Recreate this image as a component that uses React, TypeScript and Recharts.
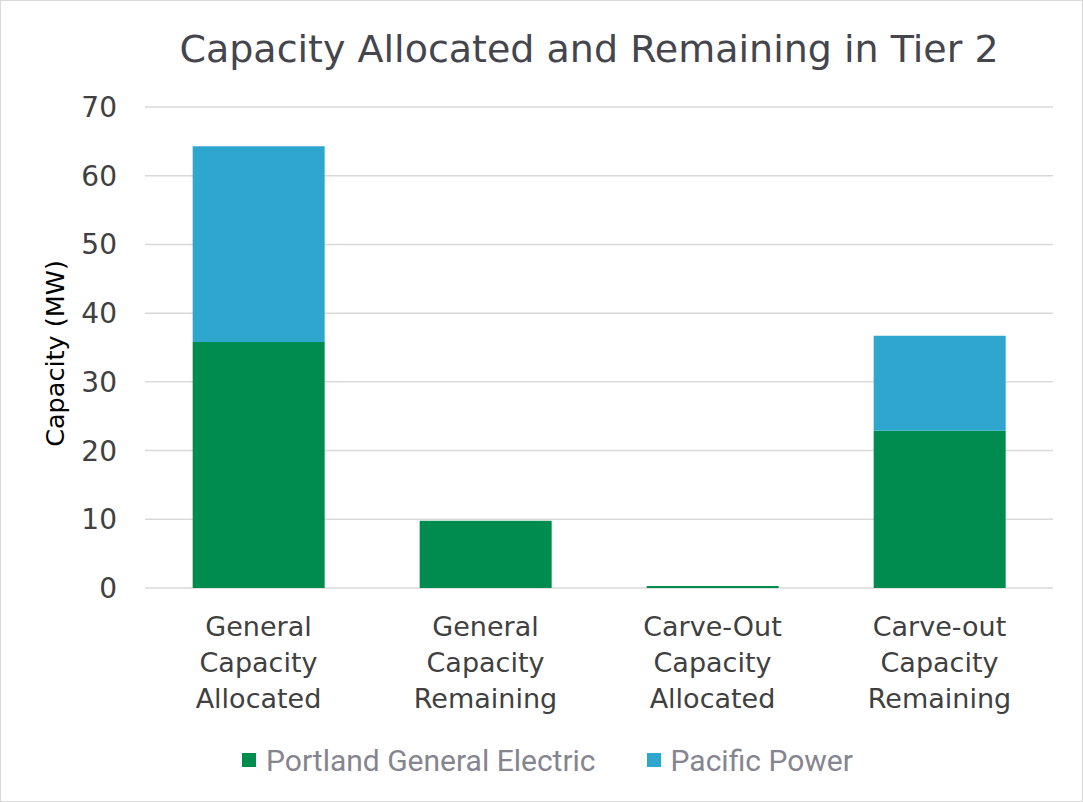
import { Bar, BarChart, CartesianGrid, Legend, XAxis, YAxis } from "recharts";

const categories = [
  "General Capacity Allocated",
  "General Capacity Remaining",
  "Carve-Out Capacity Allocated",
  "Carve-out Capacity Remaining",
];
const pgeValues = [35.8, 9.8, 0.3, 22.9];
const pacificValues = [28.5, 0, 0, 13.8];
const yTicks = [0, 10, 20, 30, 40, 50, 60, 70];

const GREEN = "#008B4F";
const BLUE = "#2FA6CD";

const data = categories.map((name, i) => ({
  name,
  pge: pgeValues[i],
  pacific: pacificValues[i],
}));

function CategoryTick(props: any) {
  const { x, y, payload } = props;
  const words = String(payload.value).split(" ");
  return (
    <text x={x} y={y} textAnchor="middle" fill="#404040" fontSize={27} fontFamily="DejaVu Sans">
      {words.map((w, i) => (
        <tspan key={i} x={x} dy={i === 0 ? 40 : 36}>
          {w}
        </tspan>
      ))}
    </text>
  );
}

function YLabel(props: any) {
  const { viewBox } = props;
  const cy = viewBox.y + viewBox.height / 2 + 6;
  const cx = 54;
  return (
    <text
      x={cx}
      y={cy}
      transform={`rotate(-90, ${cx}, ${cy})`}
      textAnchor="middle"
      dominantBaseline="central"
      fill="#000"
      fontSize={25.5}
      fontFamily="DejaVu Sans"
    >
      Capacity (MW)
    </text>
  );
}

function LegendContent() {
  const items = [
    { label: "Portland General Electric", color: GREEN },
    { label: "Pacific Power", color: BLUE },
  ];
  return (
    <div style={{ display: "flex", justifyContent: "center", alignItems: "center", height: 50, paddingLeft: 92 }}>
      {items.map((it) => (
        <div key={it.label} style={{ display: "flex", alignItems: "center", marginRight: 51 }}>
          <span style={{ width: 14, height: 14, background: it.color, display: "inline-block", marginRight: 10 }} />
          <span style={{ fontFamily: "Roboto", fontSize: 30, color: "#858590" }}>{it.label}</span>
        </div>
      ))}
    </div>
  );
}

export default function App() {
  return (
    <div
      style={{
        position: "absolute",
        left: 0,
        top: 0,
        width: 1081,
        height: 800,
        border: "1px solid #d9d9d9",
        background: "#fff",
      }}
    >
      <div
        style={{
          position: "absolute",
          top: 22,
          left: 0,
          width: 1176,
          textAlign: "center",
          fontFamily: "DejaVu Sans",
          fontSize: 38,
          color: "#45454d",
          lineHeight: "52px",
        }}
      >
        Capacity Allocated and Remaining in Tier 2
      </div>
      <BarChart
        width={1081}
        height={800}
        data={data}
        margin={{ top: 106, right: 29, left: 0, bottom: 16 }}
        barCategoryGap="21%"
      >
        <CartesianGrid vertical={false} stroke="#d9d9d9" strokeWidth={1.5} />
        <XAxis
          dataKey="name"
          axisLine={false}
          tickLine={false}
          height={147}
          interval={0}
          tick={<CategoryTick />}
        />
        <YAxis
          width={144}
          domain={[0, 70]}
          ticks={yTicks}
          axisLine={false}
          tickLine={false}
          tickSize={0}
          tickMargin={28}
          tick={{ fill: "#404040", fontSize: 28, fontFamily: "DejaVu Sans" }}
          label={<YLabel />}
        />
        <Legend verticalAlign="bottom" content={<LegendContent />} />
        <Bar dataKey="pge" stackId="a" fill={GREEN} isAnimationActive={false} />
        <Bar dataKey="pacific" stackId="a" fill={BLUE} isAnimationActive={false} />
      </BarChart>
    </div>
  );
}
